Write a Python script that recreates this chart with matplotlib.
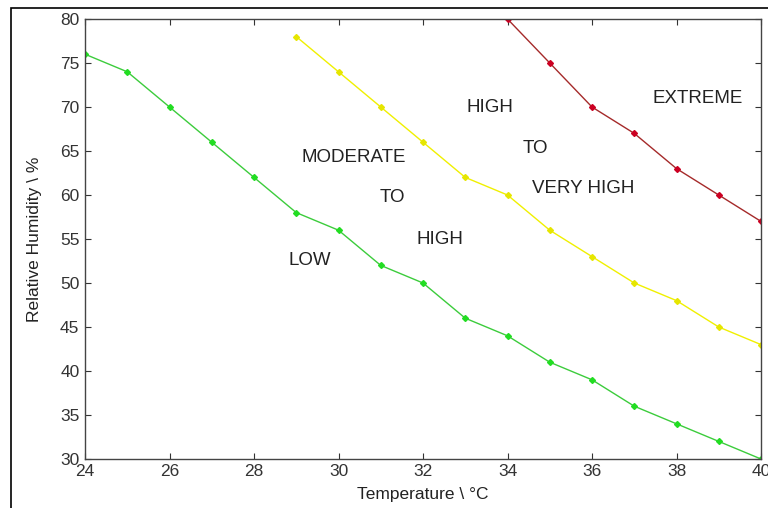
import matplotlib.pyplot as plt
from matplotlib.patches import Rectangle

plt.rcParams['font.family'] = ['Liberation Sans', 'DejaVu Sans']

# Граничні криві (температура, відносна вологість)
low_t = [24, 25, 26, 27, 28, 29, 30, 31, 32, 33, 34, 35, 36, 37, 38, 39, 40]
low_rh = [76, 74, 70, 66, 62, 58, 56, 52, 50, 46, 44, 41, 39, 36, 34, 32, 30]

mod_t = [29, 30, 31, 32, 33, 34, 35, 36, 37, 38, 39, 40]
mod_rh = [78, 74, 70, 66, 62, 60, 56, 53, 50, 48, 45, 43]

ext_t = [34, 35, 36, 37, 38, 39, 40]
ext_rh = [80, 75, 70, 67, 63, 60, 57]

# Підписи зон
zone_labels = ["LOW", "MODERATE", "TO", "HIGH", "HIGH", "TO", "VERY HIGH", "EXTREME"]
zone_x = [29.33, 30.37, 31.27, 32.4, 33.59, 34.65, 35.79, 38.49]
zone_y = [52.5, 64.3, 59.7, 54.9, 70.0, 65.3, 60.7, 71.0]

fig = plt.figure(figsize=(7.68, 5.08), dpi=100)
ax = fig.add_axes([85 / 768, 1 - 459 / 508, 676 / 768, 440 / 508])

ax.plot(low_t, low_rh, color="#3ccc3c", lw=1.0, marker="D", ms=3, mfc="#22dd22", mec="#22dd22")
ax.plot(mod_t, mod_rh, color="#f0f000", lw=1.0, marker="D", ms=3, mfc="#e6e600", mec="#e6e600")
ax.plot(ext_t, ext_rh, color="#a52a2a", lw=1.0, marker="D", ms=3, mfc="#cc0022", mec="#cc0022")

for s, x, y in zip(zone_labels, zone_x, zone_y):
    ax.text(x, y, s, ha="center", va="center", fontsize=13.5, color="#222222")

ax.set_xlim(24, 40)
ax.set_ylim(30, 80)
ax.set_xticks(range(24, 41, 2))
ax.set_yticks(range(30, 81, 5))
ax.tick_params(direction="in", length=4, top=True, right=True, labelsize=12.5, colors="#333333")
ax.tick_params(axis="y", pad=4)
for sp in ax.spines.values():
    sp.set_color("#444444")
    sp.set_linewidth(1.0)

ax.set_xlabel("Temperature \\ °C", fontsize=12.5, color="#222222", labelpad=6)
ax.set_ylabel("Relative Humidity \\ %", fontsize=12.5, color="#222222", labelpad=13)

# Рамка навколо зображення
fig.patches.append(Rectangle((11 / 768, -0.02), 1.0, 1 - 8 / 508 + 0.02, fill=False,
                             edgecolor="black", lw=1.2, transform=fig.transFigure))

fig.savefig("out.png", dpi=100)
